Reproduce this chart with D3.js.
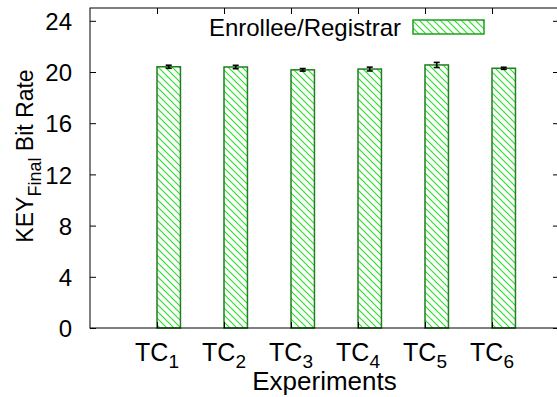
<!DOCTYPE html>
<html>
<head>
<meta charset="utf-8">
<script src="https://cdn.jsdelivr.net/npm/d3@7"></script>
<style>
  html, body { margin: 0; padding: 0; background: #fff; }
  svg { display: block; }
  text { font-family: "Liberation Sans", Arial, Helvetica, sans-serif; fill: #000; }
</style>
</head>
<body>
<svg id="chart" width="557" height="397"></svg>
<script>
// Experiment categories and measured bit rates (mean and spread)
const categories = ["1", "2", "3", "4", "5", "6"];
const bitRates   = [20.41, 20.39, 20.17, 20.23, 20.55, 20.29];
const bitErrors  = [0.12, 0.13, 0.10, 0.15, 0.20, 0.08];
const yTicks     = [0, 4, 8, 12, 16, 20, 24];
const seriesName = "Enrollee/Registrar";

const plotLeft = 90, plotRight = 559, plotTop = 8, plotBottom = 328;

const svg = d3.select("#chart");

// Category positions on a numeric axis (-1 .. 6), bars start at each tick
const x = d3.scaleLinear().domain([-1, 6]).range([plotLeft, plotRight]);
const y = d3.scaleLinear().domain([0, 25]).range([plotBottom, plotTop]);
const barW = 0.35;

// Diagonal hatch used by the bars and the legend key
const defs = svg.append("defs");
const pat = defs.append("pattern")
  .attr("id", "hatch")
  .attr("patternUnits", "userSpaceOnUse")
  .attr("width", 7).attr("height", 7);
pat.append("path")
  .attr("d", "M-1,-1 L8,8 M-8,-1 L1,8 M6,-1 L15,8")
  .attr("stroke", "#22e022")
  .attr("stroke-width", 1.1)
  .attr("fill", "none");

// Bars
const data = categories.map((c, i) => ({ c, i, v: bitRates[i], e: bitErrors[i] }));

svg.append("g").selectAll("rect")
  .data(data).enter().append("rect")
  .attr("x", d => x(d.i))
  .attr("width", x(barW) - x(0))
  .attr("y", d => y(d.v))
  .attr("height", d => y(0) - y(d.v))
  .attr("fill", "url(#hatch)")
  .attr("stroke", "#1f7f1f")
  .attr("stroke-width", 1.5);

// Error bars
const eb = svg.append("g").attr("stroke", "#000").attr("stroke-width", 1.6);
data.forEach(d => {
  const cx = x(d.i + barW / 2);
  eb.append("line").attr("x1", cx).attr("x2", cx)
    .attr("y1", y(d.v - d.e)).attr("y2", y(d.v + d.e));
  eb.append("line").attr("x1", cx - 3).attr("x2", cx + 3)
    .attr("y1", y(d.v - d.e)).attr("y2", y(d.v - d.e));
  eb.append("line").attr("x1", cx - 3).attr("x2", cx + 3)
    .attr("y1", y(d.v + d.e)).attr("y2", y(d.v + d.e));
});

// Frame
svg.append("rect")
  .attr("x", plotLeft).attr("y", plotTop)
  .attr("width", plotRight - plotLeft).attr("height", plotBottom - plotTop)
  .attr("fill", "none").attr("stroke", "#000").attr("stroke-width", 1);

// Y axis (left) with mirrored ticks on the right
const yAxis = d3.axisLeft(y).tickValues(yTicks).tickSizeInner(-6).tickSizeOuter(0).tickPadding(18);
const gy = svg.append("g").attr("transform", `translate(${plotLeft},0)`).call(yAxis);
gy.select(".domain").remove();
gy.selectAll("text").style("font-size", "24px").attr("dy", "0.36em")
  .style("font-family", '"Liberation Sans", Arial, sans-serif');

const gyr = svg.append("g").attr("transform", `translate(${plotRight},0)`)
  .call(d3.axisRight(y).tickValues(yTicks).tickSizeInner(-6).tickSizeOuter(0).tickFormat(""));
gyr.select(".domain").remove();

// X axis: mirrored ticks on top, subscripted labels below
const xTickVals = d3.range(categories.length);
const gxt = svg.append("g").attr("transform", `translate(0,${plotTop})`)
  .call(d3.axisTop(x).tickValues(xTickVals).tickSizeInner(-6).tickSizeOuter(0).tickFormat(""));
gxt.select(".domain").remove();

const gx = svg.append("g").attr("transform", `translate(0,${plotBottom})`)
  .call(d3.axisBottom(x).tickValues(xTickVals).tickSizeInner(-6).tickSizeOuter(0).tickFormat(""));
gx.select(".domain").remove();

const xl = svg.append("g");
categories.forEach((c, i) => {
  const t = xl.append("text")
    .attr("x", x(i)).attr("y", 361)
    .attr("text-anchor", "middle")
    .style("font-size", "25px");
  t.append("tspan").text("TC");
  t.append("tspan").text(c).attr("dy", 7).style("font-size", "19px");
});

// Axis titles
svg.append("text")
  .attr("x", (plotLeft + plotRight) / 2).attr("y", 390)
  .attr("text-anchor", "middle")
  .style("font-size", "26px")
  .text("Experiments");

const yl = svg.append("text")
  .attr("transform", "translate(33,156) rotate(-90)")
  .attr("text-anchor", "middle")
  .style("font-size", "23px");
yl.append("tspan").text("KEY");
yl.append("tspan").text("Final").attr("dy", 8).style("font-size", "18px");
yl.append("tspan").text(" Bit Rate").attr("dy", -8);

// Legend
svg.append("text")
  .attr("x", 401).attr("y", 36)
  .attr("text-anchor", "end")
  .style("font-size", "24px")
  .text(seriesName);
svg.append("rect")
  .attr("x", 413).attr("y", 20).attr("width", 71).attr("height", 14)
  .attr("fill", "url(#hatch)")
  .attr("stroke", "#1f9f1f").attr("stroke-width", 1.5);
</script>
</body>
</html>
